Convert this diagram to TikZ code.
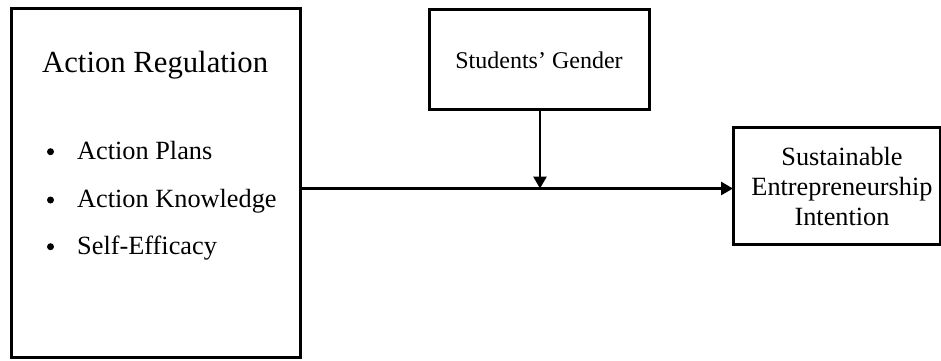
\documentclass[tikz,border=0pt]{standalone}
\usepackage{fontspec}
\setmainfont{Liberation Serif}
\usetikzlibrary{arrows.meta}
\begin{document}
\begin{tikzpicture}[x=1pt,y=-1pt,
  box/.style={draw,line width=3pt,inner sep=0pt,outer sep=0pt},
  conn/.style={line width=2.8pt,-{Triangle[width=13pt,length=12pt]}},
  lbl/.style={inner sep=0pt,anchor=base west},
  dot/.style={circle,fill,inner sep=0pt,minimum size=7pt},
  bigtxt/.style={font=\fontsize{30.7}{36}\selectfont},
  midtxt/.style={font=\fontsize{26.3}{30}\selectfont},
  smalltxt/.style={font=\fontsize{24}{28}\selectfont}]
\useasboundingbox (0,0) rectangle (941,360);
% boxes
\node[box,minimum width=289pt,minimum height=349pt] (ar) at (156,182.5) {};
\node[box,minimum width=220pt,minimum height=100pt] (sg) at (539,59) {};
\node[box,minimum width=207pt,minimum height=117pt] (sei) at (836.5,185.5) {};
% left box text
\node[lbl,bigtxt] (arh) at (42,72) {Action Regulation};
\node[dot] (b1) at (50.5,151.7) {};
\node[lbl,midtxt] (t1) at (77,159) {Action Plans};
\node[dot] (b2) at (50.5,200) {};
\node[lbl,midtxt] (t2) at (77,207) {Action Knowledge};
\node[dot] (b3) at (50.5,246.7) {};
\node[lbl,midtxt] (t3) at (77,254) {Self-Efficacy};
% gender text
\node[inner sep=0pt,anchor=base,smalltxt] (sgt) at (539,68) {Students’ Gender};
% right text
\node[inner sep=0pt,align=center,midtxt] (seit) at (842,186) {Sustainable\\Entrepreneurship\\Intention};
% connectors
\coordinate (j) at (540,188.5);
\draw[conn] (sg.south -| j) -- (j);
\draw[conn] (ar.east |- j) -- (sei.west |- j);
\end{tikzpicture}
\end{document}
